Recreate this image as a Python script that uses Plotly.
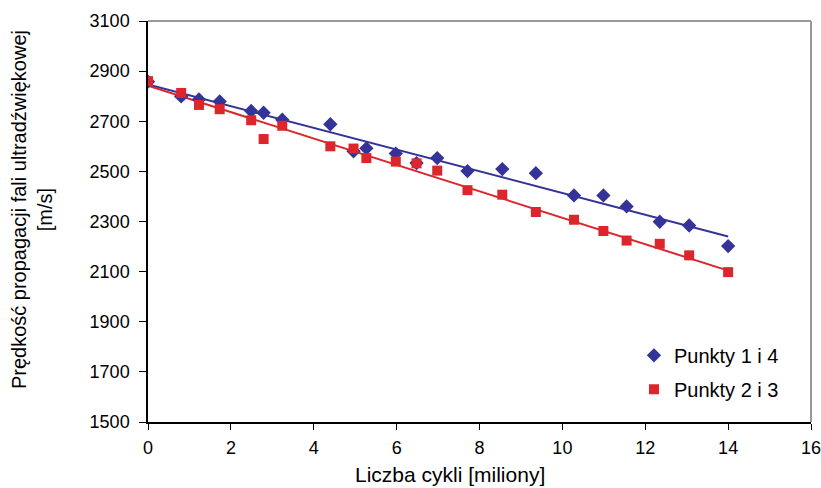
import plotly.graph_objects as go

# Data
x_vals = [0, 0.8, 1.23, 1.73, 2.49, 2.79, 3.24, 4.4, 4.96, 5.27, 5.98, 6.48, 6.98,
          7.71, 8.55, 9.36, 10.28, 10.99, 11.55, 12.35, 13.06, 14.0]
blue_vals = [2858, 2799, 2787, 2779, 2741, 2734, 2706, 2688, 2580, 2592, 2571, 2533, 2553,
             2501, 2509, 2493, 2404, 2404, 2360, 2299, 2284, 2202]
red_vals = [2860, 2813, 2765, 2748, 2704, 2629, 2682, 2600, 2591, 2553, 2539, 2532, 2503,
            2425, 2407, 2338, 2307, 2262, 2224, 2211, 2165, 2098]
trend_x = [0, 14]
blue_trend = [2847, 2240]
red_trend = [2842, 2104]

series_names = ["Punkty 1 i 4", "Punkty 2 i 3"]
x_ticks = [0, 2, 4, 6, 8, 10, 12, 14, 16]
y_ticks = [1500, 1700, 1900, 2100, 2300, 2500, 2700, 2900, 3100]

BLUE = "#333399"
RED = "#DC262C"
FONT = "Liberation Sans"

fig = go.Figure()
fig.add_trace(go.Scatter(x=trend_x, y=blue_trend, mode="lines",
                         line=dict(color=BLUE, width=2), showlegend=False, hoverinfo="skip"))
fig.add_trace(go.Scatter(x=trend_x, y=red_trend, mode="lines",
                         line=dict(color=RED, width=2), showlegend=False, hoverinfo="skip"))
fig.add_trace(go.Scatter(x=x_vals, y=blue_vals, mode="markers", name=series_names[0],
                         legendgroup="a",
                         marker=dict(symbol="diamond", size=11, color=BLUE)))
fig.add_trace(go.Scatter(x=x_vals, y=red_vals, mode="markers", name=series_names[1],
                         legendgroup="b",
                         marker=dict(symbol="square", size=10, color=RED)))

fig.update_layout(
    width=821, height=488,
    margin=dict(l=148, r=10, t=21, b=66, autoexpand=False),
    paper_bgcolor="white", plot_bgcolor="white",
    font=dict(family=FONT, size=18, color="black"),
    showlegend=True,
    legend=dict(x=0.733, y=0.215, xanchor="left", yanchor="top",
                bgcolor="rgba(0,0,0,0)", font=dict(size=20, family=FONT),
                traceorder="grouped", tracegroupgap=5, itemsizing="trace"),
    shapes=[
        dict(type="line", xref="paper", yref="paper", x0=0, x1=1, y0=1, y1=1,
             line=dict(color="#999999", width=2)),
        dict(type="line", xref="paper", yref="paper", x0=1, x1=1, y0=0, y1=1,
             line=dict(color="#999999", width=2)),
    ],
    annotations=[
        dict(text="Prędkość propagacji fali ultradźwiękowej<br>[m/s]",
             xref="paper", yref="paper", x=-0.174, y=0.53, textangle=-90,
             showarrow=False, font=dict(size=20, family=FONT), xanchor="center", yanchor="middle"),
        dict(text="Liczba cykli [miliony]", xref="paper", yref="paper",
             x=0.455, y=-0.13, showarrow=False, font=dict(size=21, family=FONT),
             xanchor="center", yanchor="middle"),
    ],
)
fig.update_xaxes(range=[0, 16], tickvals=x_ticks, ticks="outside", ticklen=6,
                 tickcolor="black", showline=True, linecolor="black", linewidth=1.5,
                 showgrid=False, zeroline=False, tickfont=dict(size=18),
                 automargin=False, ticklabelstandoff=3, ticklabeloverflow="allow")
fig.update_yaxes(range=[1500, 3100], tickvals=y_ticks, ticks="outside", ticklen=7,
                 tickcolor="black", showline=True, linecolor="black", linewidth=1.5,
                 showgrid=False, zeroline=False, tickfont=dict(size=18),
                 automargin=False, ticklabelstandoff=6, ticklabeloverflow="allow")

fig.write_html("out.html")
